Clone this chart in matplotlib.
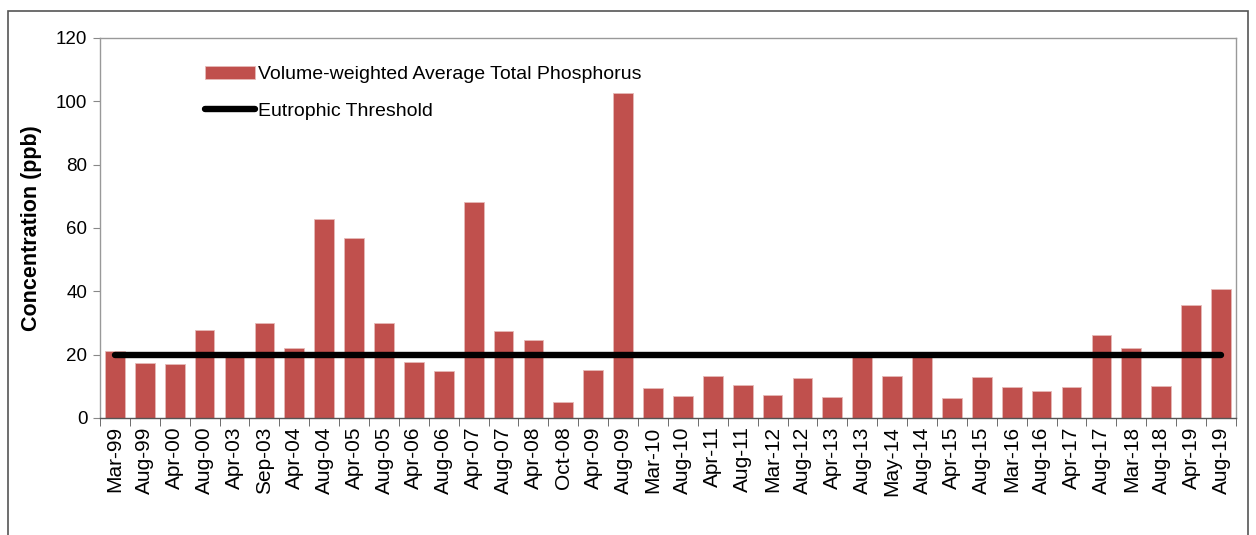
import matplotlib.pyplot as plt
import numpy as np
from matplotlib.patches import Rectangle

plt.rcParams['font.family'] = ['Liberation Sans', 'DejaVu Sans']

dates = ['Mar-99', 'Aug-99', 'Apr-00', 'Aug-00', 'Apr-03', 'Sep-03', 'Apr-04', 'Aug-04',
         'Apr-05', 'Aug-05', 'Apr-06', 'Aug-06', 'Apr-07', 'Aug-07', 'Apr-08', 'Oct-08',
         'Apr-09', 'Aug-09', 'Mar-10', 'Aug-10', 'Apr-11', 'Aug-11', 'Mar-12', 'Aug-12',
         'Apr-13', 'Aug-13', 'May-14', 'Aug-14', 'Apr-15', 'Aug-15', 'Mar-16', 'Aug-16',
         'Apr-17', 'Aug-17', 'Mar-18', 'Aug-18', 'Apr-19', 'Aug-19']
tp = [21.2, 17.3, 16.9, 27.9, 19.7, 29.9, 22.2, 62.8,
      56.7, 29.9, 17.8, 14.7, 68.3, 27.5, 24.5, 5.0,
      15.1, 102.7, 9.4, 6.9, 13.4, 10.4, 7.2, 12.6,
      6.6, 19.6, 13.3, 19.7, 6.2, 12.8, 9.9, 8.4,
      9.9, 26.3, 22.0, 10.1, 35.6, 40.7]
threshold = 20

x = np.arange(len(dates))

fig = plt.figure(figsize=(12.56, 5.35), dpi=100)
ax = fig.add_axes([0.0796, 0.2187, 0.9044, 0.7103])

bars = ax.bar(x, tp, width=0.66, color='#C0504D', edgecolor='#E6B9B8', linewidth=0.6,
              label='Volume-weighted Average Total Phosphorus', zorder=2)
line, = ax.plot([x[0], x[-1]], [threshold, threshold], color='black', lw=4.6,
                solid_capstyle='round', label='Eutrophic Threshold', zorder=3)

ax.set_xlim(-0.5, len(dates) - 0.5)
ax.set_ylim(0, 120)
ax.set_yticks(range(0, 121, 20))
ax.tick_params(axis='y', labelsize=13.5, length=5, color='#888888', pad=4)
ax.set_xticks(x)
ax.set_xticklabels(dates, rotation=90, fontsize=15)
ax.tick_params(axis='x', length=0, pad=6)
ax.set_xticks(np.arange(-0.5, len(dates)), minor=True)
ax.tick_params(axis='x', which='minor', length=6, color='#555555', direction='out')
for s in ax.spines.values():
    s.set_color('#999999')
    s.set_linewidth(1)
ax.spines['bottom'].set_color('#555555')

ax.set_ylabel('Concentration (ppb)', fontsize=15.5, fontweight='bold', labelpad=10)

ax.legend(handles=[bars, line], loc='upper left', bbox_to_anchor=(0.0855, 0.948),
          frameon=False, fontsize=14, handlelength=2.6, handletextpad=0.15,
          labelspacing=0.97, borderaxespad=0)

fig.patches.append(Rectangle((0.006, -0.05), 0.988, 1.03, transform=fig.transFigure,
                             fill=False, edgecolor='#555555', linewidth=1.2))

fig.savefig('out.png', dpi=100)
